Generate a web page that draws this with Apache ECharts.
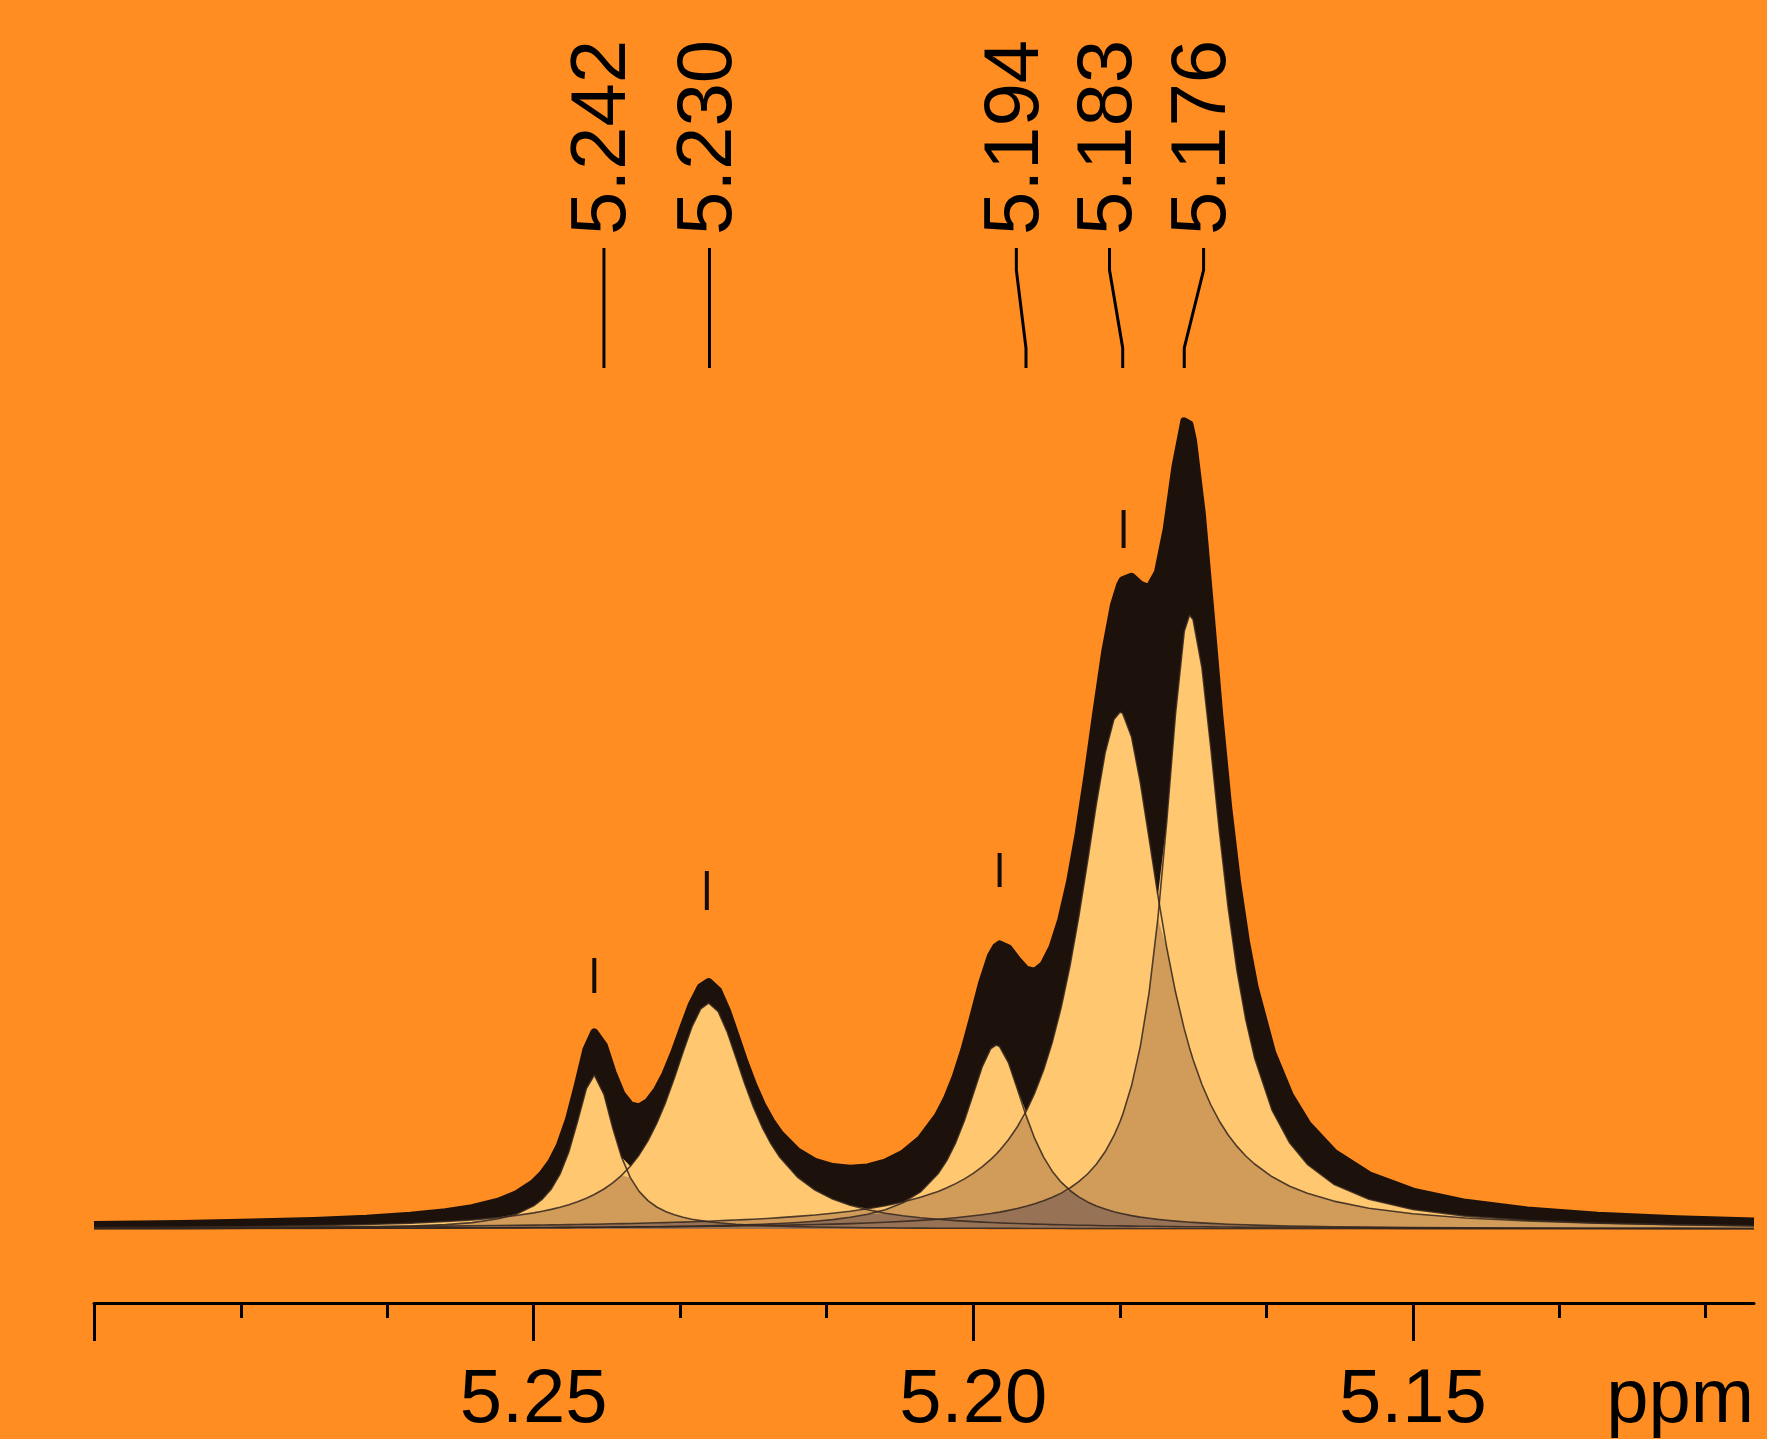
<!DOCTYPE html>
<html><head><meta charset="utf-8">
<script src="https://cdn.jsdelivr.net/npm/echarts@6/dist/echarts.min.js"></script>
<style>html,body{margin:0;padding:0;background:#FF8D21;}#c{width:1767px;height:1439px;}</style>
</head><body><div id="c"></div>
<script>
// chemical shift grid (ppm)
const ppm = [5.300,5.290,5.282,5.275,5.269,5.264,5.260,5.257,5.254,5.252,
5.250,5.249,5.248,5.247,5.246,5.245,5.244,5.2431,
5.242,5.241,5.240,5.239,5.238,5.237,5.236,5.235,5.234,5.233,5.232,5.231,
5.2301,
5.229,5.228,5.227,5.226,5.225,5.224,5.223,5.222,
5.220,5.218,5.216,5.214,5.212,5.210,5.208,5.206,
5.204,5.203,5.202,5.201,5.200,5.199,5.198,
5.1974,
5.197,5.196,5.195,5.194,5.193,5.192,5.191,5.190,5.189,5.188,5.187,5.186,5.185,5.184,
5.1833,
5.183,5.182,5.181,5.180,5.179,5.178,5.177,5.176,
5.1754,
5.175,5.174,5.173,5.172,5.171,5.170,5.169,5.168,
5.166,5.164,5.162,5.159,5.155,5.150,5.144,5.137,5.129,5.120,5.1112];

// fitted component lines (intensity)
const compA = [0.4,0.6,0.9,1.3,1.9,2.9,4.4,6.4,10.2,14.8,
23.1,30.0,39.9,54.8,77.0,107.8,140.5,154.0,
134.6,101.0,71.9,51.4,37.6,28.4,22.0,17.5,14.2,11.7,9.8,8.4,
7.3,
6.3,5.5,4.8,4.3,3.9,3.5,3.1,2.9,
2.4,2.0,1.7,1.5,1.3,1.2,1.0,0.9,
0.8,0.8,0.8,0.7,0.7,0.7,0.6,
0.6,
0.6,0.6,0.6,0.5,0.5,0.5,0.5,0.5,0.4,0.4,0.4,0.4,0.4,0.4,
0.4,
0.4,0.4,0.3,0.3,0.3,0.3,0.3,0.3,
0.3,
0.3,0.3,0.3,0.3,0.3,0.2,0.2,0.2,
0.2,0.2,0.2,0.2,0.2,0.1,0.1,0.1,0.1,0.1,0.1];
const compB = [1.4,1.9,2.5,3.4,4.5,5.8,7.5,9.1,11.4,13.5,
16.1,17.8,19.6,21.8,24.3,27.3,30.8,34.5,
40.0,46.1,53.6,62.8,74.1,88.2,105.5,126.4,150.7,177.1,202.1,220.1,
226.0,
217.4,197.4,171.8,145.6,121.9,101.7,85.1,71.7,
52.0,38.9,30.0,23.8,19.2,15.8,13.3,11.3,
9.7,9.0,8.4,7.9,7.4,6.9,6.5,
6.3,
6.1,5.8,5.5,5.2,4.9,4.7,4.4,4.2,4.0,3.8,3.7,3.5,3.3,3.2,
3.1,
3.1,2.9,2.8,2.7,2.6,2.5,2.4,2.3,
2.3,
2.3,2.2,2.1,2.0,2.0,1.9,1.8,1.8,
1.7,1.6,1.5,1.4,1.2,1.1,0.9,0.8,0.7,0.6,0.5];
const compC = [0.3,0.4,0.5,0.6,0.7,0.8,0.9,1.0,1.1,1.1,
1.2,1.3,1.3,1.4,1.4,1.5,1.6,1.6,
1.7,1.8,1.9,2.0,2.1,2.2,2.3,2.4,2.5,2.7,2.8,3.0,
3.2,
3.4,3.6,3.8,4.1,4.4,4.7,5.1,5.5,
6.5,7.8,9.4,11.7,14.8,19.3,26.2,37.1,
55.2,68.6,86.2,108.6,135.1,161.8,180.5,
184.0,
182.4,166.5,140.6,113.6,90.3,71.8,57.6,46.8,38.5,32.1,27.1,23.1,19.9,17.3,
15.8,
15.2,13.4,11.9,10.7,9.6,8.7,7.9,7.2,
6.8,
6.6,6.1,5.6,5.2,4.8,4.5,4.2,3.9,
3.4,3.0,2.7,2.3,1.9,1.5,1.2,0.9,0.7,0.6,0.5];
const compD = [1.3,1.5,1.8,2.1,2.4,2.7,2.9,3.2,3.5,3.7,
3.9,4.0,4.1,4.3,4.4,4.5,4.7,4.8,
5.0,5.2,5.4,5.5,5.8,6.0,6.2,6.4,6.7,6.9,7.2,7.5,
7.8,
8.2,8.6,9.0,9.4,9.8,10.3,10.8,11.4,
12.6,14.0,15.8,17.8,20.3,23.3,27.0,31.7,
37.6,41.2,45.4,50.1,55.6,62.1,69.6,
74.8,
78.6,89.2,102.0,117.4,136.2,159.1,187.1,221.5,263.0,312.1,367.5,424.9,476.1,509.6,
517.0,
515.6,492.3,446.7,390.6,333.6,281.7,237.2,200.1,
181.1,
169.6,144.8,124.5,107.8,94.0,82.6,73.0,65.0,
52.2,42.8,35.7,27.9,20.8,15.2,11.0,8.0,5.8,4.3,3.3];
const compE = [0.5,0.6,0.7,0.8,0.9,1.0,1.1,1.2,1.3,1.4,
1.5,1.5,1.5,1.6,1.6,1.7,1.7,1.8,
1.8,1.9,1.9,2.0,2.1,2.1,2.2,2.3,2.4,2.4,2.5,2.6,
2.7,
2.8,2.9,3.0,3.2,3.3,3.4,3.6,3.7,
4.1,4.5,4.9,5.4,6.0,6.7,7.6,8.6,
9.8,10.5,11.3,12.2,13.2,14.3,15.5,
16.4,
16.9,18.6,20.5,22.7,25.2,28.2,31.7,35.9,41.0,47.3,55.0,64.8,77.2,93.3,
107.5,
114.6,143.2,182.4,236.4,310.4,406.6,514.6,597.7,
614.0,
609.4,562.0,482.6,397.1,320.6,258.2,209.1,171.1,
118.6,86.0,64.7,44.8,29.7,19.5,12.9,8.7,6.0,4.2,3.1];
// measured spectrum envelope (intensity)
const envelope = [3.9,5.0,6.4,8.1,10.3,13.2,16.8,20.9,27.4,34.5,
45.8,54.6,66.5,83.8,108.8,142.8,179.3,196.7,
183.1,155.9,134.7,123.7,121.6,126.9,138.2,155.0,176.5,200.9,224.5,241.6,
247.0,
238.0,218.0,192.5,166.5,143.3,123.6,107.7,95.2,
77.5,67.1,61.9,60.2,61.6,66.3,75.1,89.6,
113.1,130.1,152.1,179.5,211.9,245.8,272.7,
282.1,
284.6,280.7,269.1,259.4,257.1,264.2,281.3,308.9,346.9,395.8,453.7,516.7,576.9,623.8,
643.8,
648.8,652.2,644.2,640.7,656.5,699.8,762.4,807.6,
804.5,
788.1,715.3,615.1,512.4,421.6,347.4,288.3,242.0,
176.1,133.6,104.8,76.5,53.8,37.4,26.2,18.5,13.3,9.7,7.5];

// peak picking
const peakLabels = ['5.242','5.230','5.194','5.183','5.176'];
const peakPpm = [5.242,5.230,5.194,5.183,5.176];
const labelPpm = [5.242,5.230,5.1951,5.1845,5.1738];
const labelBase = 994, lineTop = 981, lineKnee1 = 959, lineKnee2 = 881, lineBottom = 861;
const markerPpm = [5.2431,5.2303,5.1970,5.1829];
const markerLow = [236,319,342,681];
const markerHigh = [271,358,376,719];

// axis
const xMin = 5.1112, xMax = 5.30;
const majorTicks = [5.30,5.25,5.20,5.15];
const tickLabels = [5.25,5.20,5.15];
const minorTicks = [5.2833,5.2667,5.2333,5.2167,5.1833,5.1667,5.1333,5.1167];

const BG = '#FF8D21', BLACK = '#1C110B', LIGHT = '#FFC76F', TAN = '#D19C5A', BROWN = '#987255';
const FONT = "'Liberation Sans', Arial, Helvetica, sans-serif";

const comps = [compA, compB, compC, compD, compE];
const pairs = arr => ppm.map((p, i) => [p, arr[i]]);
const rank = r => ppm.map((p, i) => {
  const v = comps.map(c => c[i]).sort((a, b) => b - a);
  return [p, v[r]];
});

const areaSeries = (data, color, z, lw) => ({
  type: 'line', data, smooth: false, symbol: 'none', silent: true, z,
  lineStyle: { color, width: lw || 0, join: 'round' },
  areaStyle: { color, opacity: 1 }
});

const chart = echarts.init(document.getElementById('c'), null, { renderer: 'canvas' });
chart.setOption({
  backgroundColor: BG,
  animation: false,
  grid: { left: 94, right: 13, top: 0, bottom: 210, containLabel: false },
  xAxis: [{
    type: 'value', inverse: true, min: xMin, max: xMax, position: 'bottom', offset: 74,
    splitLine: { show: false },
    axisLine: { show: true, onZero: false, lineStyle: { color: '#000', width: 3 } },
    axisTick: { show: true, customValues: majorTicks, length: 38, lineStyle: { color: '#000', width: 3 } },
    axisLabel: { show: true, customValues: tickLabels, formatter: v => v.toFixed(2),
      fontSize: 76, fontFamily: FONT, color: '#000', margin: 60 },
    name: 'ppm', nameLocation: 'start', nameGap: 0,
    nameTextStyle: { fontSize: 76, fontFamily: FONT, color: '#000', align: 'right', verticalAlign: 'top', padding: [60, 0, 0, 0] }
  }, {
    type: 'value', inverse: true, min: xMin, max: xMax, position: 'bottom', offset: 74,
    splitLine: { show: false },
    axisLine: { show: false, onZero: false },
    axisTick: { show: true, customValues: minorTicks, length: 15, lineStyle: { color: '#000', width: 3 } },
    axisLabel: { show: false }
  }],
  yAxis: { type: 'value', min: 0, max: 1229, show: false, splitLine: { show: false } },
  series: [
    areaSeries(pairs(envelope), BLACK, 1, 8),
    areaSeries(rank(0), LIGHT, 2),
    areaSeries(rank(1), TAN, 3),
    areaSeries(rank(2), BROWN, 4),
    ...comps.map(c => ({
      type: 'line', data: pairs(c), smooth: false, symbol: 'none', silent: true, z: 5,
      lineStyle: { color: '#33261f', width: 1.6, opacity: 0.85, join: 'round' }
    })),
    {
      type: 'custom', z: 6, silent: true,
      data: markerPpm.map((p, i) => [p, markerLow[i], markerHigh[i]]),
      encode: { x: 0, y: [1, 2] },
      renderItem: (params, api) => {
        const a = api.coord([api.value(0), api.value(1)]);
        const b = api.coord([api.value(0), api.value(2)]);
        return { type: 'line', shape: { x1: a[0], y1: a[1], x2: b[0], y2: b[1] },
          style: { stroke: '#140c08', lineWidth: 4 } };
      }
    },
    {
      type: 'custom', z: 6, silent: true,
      data: labelPpm.map((p, i) => [p, peakPpm[i], i]),
      encode: { x: 0 },
      renderItem: (params, api) => {
        const lp = api.value(0), pp = api.value(1), idx = api.value(2);
        const t = api.coord([lp, labelBase]);
        const p1 = api.coord([lp, lineTop]);
        const p2 = api.coord([lp, lineKnee1]);
        const p3 = api.coord([pp, lineKnee2]);
        const p4 = api.coord([pp, lineBottom]);
        return { type: 'group', children: [
          { type: 'polyline', shape: { points: [p1, p2, p3, p4] },
            style: { stroke: '#000', lineWidth: 3, fill: null } },
          { type: 'text', x: t[0], y: t[1], rotation: Math.PI / 2,
            style: { text: peakLabels[idx], fontSize: 78, fontFamily: FONT, fill: '#000',
              textAlign: 'left', textVerticalAlign: 'middle' } }
        ] };
      }
    }
  ]
});
</script></body></html>
